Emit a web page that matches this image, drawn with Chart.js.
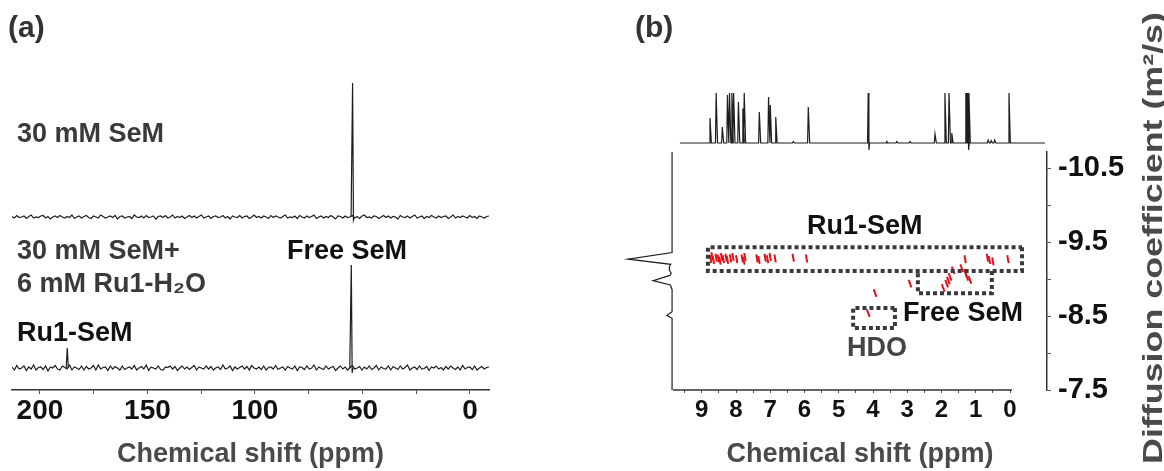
<!DOCTYPE html>
<html>
<head>
<meta charset="utf-8">
<script src="https://cdn.jsdelivr.net/npm/chart.js@4.4.1/dist/chart.umd.min.js"></script>
<style>
  html, body { margin: 0; padding: 0; background: #fff; }
  #stage { position: relative; width: 1164px; height: 471px; overflow: hidden;
           font-family: "Liberation Sans", Arial, sans-serif; font-weight: bold; }
  canvas { position: absolute; }
  .lbl { position: absolute; white-space: nowrap; line-height: 1; font-size: 27px; color: #111; }
</style>
</head>
<body>
<div id="stage">
  <canvas id="chartA" width="560" height="471" style="left:0;top:0"></canvas>
  <canvas id="chartTop" width="564" height="160" style="left:600px;top:0"></canvas>
  <canvas id="chartSide" width="100" height="471" style="left:600px;top:0"></canvas>
  <canvas id="chartB" width="564" height="471" style="left:600px;top:0"></canvas>

  <div class="lbl" style="left:8px;top:12px;font-size:30px;color:#333">(a)</div>
  <div class="lbl" style="left:17px;top:120px;color:#3a3a3a">30 mM SeM</div>
  <div class="lbl" style="left:17px;top:237px;color:#3a3a3a">30 mM SeM+</div>
  <div class="lbl" style="left:17px;top:270px;color:#3a3a3a">6 mM Ru1-H₂O</div>
  <div class="lbl" style="left:287px;top:237px">Free SeM</div>
  <div class="lbl" style="left:17px;top:319px">Ru1-SeM</div>

  <div class="lbl" style="left:635px;top:12px;font-size:30px;color:#333">(b)</div>
  <div class="lbl" style="left:807px;top:212px">Ru1-SeM</div>
  <div class="lbl" style="left:903px;top:299px">Free SeM</div>
  <div class="lbl" style="left:847px;top:334px;color:#444">HDO</div>
  <div class="lbl" style="left:1153px;top:238px;font-size:28px;color:#4a4a4a;transform:translate(-50%,-50%) rotate(-90deg) scaleX(1.28)">Diffusion coefficient (m²/s)</div>
</div>

<script>
// ---- panel (a): 77Se 1D spectra ----
const rangeA = [-8.84, 213];               // ppm, right to left
const ticksA = [0, 25, 50, 75, 100, 125, 150, 175, 200];

// baseline noise (a.u., ~1 px)
const noiseTop = [0.5,-1,1.5,-0.5,0,1,-1.5,0.5,2,-1,0,-0.5,1,1.5,-1,0.5,-2,0,1,-0.5,
  1.5,0,-1,0.5,-0.5,2,-1.5,0,1,-1,0.5,1.5,-0.5,-1.5,1,0,-1,2,0.5,-1,
  0,1,-0.5,1.5,-2,0.5,1,-1,0,0.5,-1.5,2,0,-0.5,1,-1,1.5,-0.5,0,1,
  -2,0.5,1,-0.5,1.5,-1,0,2,-1,0.5,-0.5,1,-1.5,0,1.5,-0.5,1,-1,0.5,2,
  -1,0,1,-1.5,0.5,1,-0.5,0,1.5,-1,0.5,-2,1,0,-0.5,1.5,-1,0.5,1,-1.5,
  0,2,-0.5,0.5,-1,1,0,-1.5,1.5,-0.5,1,0,-1,0.5,2,-1,0,-0.5,1,-1.5,
  1.5,0,-1,1,-0.5,0.5,2,-1.5,0,1,-1,0.5,-0.5,1.5,0,-2,1,0.5,-1,1,
  -0.5,0,1.5,-1,0.5,-1.5,1,2,-0.5,0,-1,1,0.5,-1.5,0,1.5,-0.5,1,-1,0.5,
  0,-2,1.5,0,-0.5,1,-1,0.5,2,-1,0,1,-1.5,0.5,-0.5,1.5,0,-1,1,-0.5,
  0.5,1,-1.5,0,2,-1,0.5,-0.5,1,0,-1,1.5,-0.5,0.5,-1.5,1,0,-1,0.5,1];
const noiseBottom = [1,-2,2.5,-1,0,2,-2.5,1,-1,3,-2,0.5,1,-1.5,2,-3,1,0,2.5,-1,
  -2,2,0.5,-1,3,-2,1,0,-1.5,2,-2,1.5,-1,0,2.5,-2,3,-1,0.5,1,
  -2.5,2,-1,1.5,0,-2,2,-1.5,0,1,-1,2.5,-2,0,1.5,-1,3,-2.5,1,0,
  -1,2,-1.5,-2,1,0.5,2,-1,1.5,-2.5,0,2,-1,1,-1.5,0.5,2.5,-2,1,0,
  -1,2,-1,1.5,-2,0,1,-1.5,3,-1,0,2,-2.5,1,-1,0.5,2,-1,1.5,-2,
  2.5,0,-1,1,-1.5,2,-2,0.5,1,-1,2.5,-1.5,0,1,-2,1.5,0,-1,2,-2.5,
  1,0.5,-1.5,2,-1,0,3,-2,1,-0.5,-1.5,2,-1,0.5,1.5,-2.5,0,2,-1,1,
  -2,0.5,2.5,-1,0,1.5,-2,1,-1,2,-1.5,0,2.5,-2,1,-0.5,-1,2,-2,1.5,
  0,-1.5,2,-1,0.5,3,-2,0,1,-1.5,2,-1,-0.5,1.5,-2.5,1,0,2,-1,0.5,
  -2,1.5,-1,2,0,-1.5,1,-2,2.5,-1,0.5,1,-1.5,2,-2,0,1.5,-1,0.5,1];

// peaks: [ppm, intensity]
const peakTop = [[55.3, 0], [54.6, 134], [54.2, -3], [53.8, 0]];
const peakBottom = [[55.9, 0], [55.2, 103], [54.8, -5], [54.4, 0]];
const peakRu1 = [[187.8, 0], [187.3, 20], [186.8, 0]];
const offsetTop = 173, offsetBottom = 22;

// ---- panel (b): 1H DOSY ----
const rangeB = [-1.08, 9.84];              // ppm
const axisSpanB = [9.84, -0.06];
const ticksB = [0, 0.5, 1, 1.5, 2, 2.5, 3, 3.5, 4, 4.5, 5, 5.5, 6, 6.5, 7, 7.5, 8, 8.5, 9, 9.5];
const rangeD = [-10.72, -7.5];             // log D
const ticksD = [-10.5, -10, -9.5, -9, -8.5, -8, -7.5];

// top 1H projection: [ppm, height, dip]
const projTopSpan = [9.64, -1.02];
const projTopPeaks = [
  [8.76, 0.5], [8.58, 1.0], [8.40, 0.32], [8.25, 0.96], [8.19, 1.0], [8.12, 1.0], [8.07, 1.0],
  [7.93, 0.82], [7.80, 0.69], [7.76, 1.0], [7.32, 0.62], [7.05, 0.92], [7.00, 0.76], [6.84, 0.52],
  [6.33, 0.03], [5.89, 0.72], [4.14, 1.0, -0.14], [3.60, 0.03], [3.31, 0.03], [2.92, 0.03],
  [2.19, 0.18], [1.90, 1.0], [1.78, 1.0], [1.70, 0.2], [1.29, 1.0], [1.26, 1.0], [1.23, 1.0, -0.14],
  [1.20, 1.0], [0.64, 0.06], [0.55, 0.05], [0.45, 0.06], [0.03, 1.0]
];

// left diffusion projection: log D and intensity
const projSideD = [-10.72, -9.36, -9.27, -9.20, -9.17, -9.12, -9.08, -9.05, -8.98, -8.92, -8.86, -8.56, -8.51, -8.47, -7.5];
const projSideI = [0, 0, 1.0, 0.03, 0.06, 0.06, 0.02, 0.05, 0.43, 0.04, 0, 0, 0.12, 0, 0];

// cross peaks
const crossRowPpm = [8.74, 8.70, 8.66, 8.58, 8.52, 8.47, 8.42, 8.37, 8.29, 8.25, 8.16, 8.09, 7.98,
  7.82, 7.77, 7.74, 7.39, 7.33, 7.15, 7.08, 7.00, 6.86, 6.33, 5.94, 1.31, 0.66, 0.60, 0.50, 0.06];
const crossRowD = [-9.27, -9.31, -9.26, -9.29, -9.28, -9.25, -9.30, -9.27, -9.29, -9.26, -9.28, -9.30, -9.27,
  -9.28, -9.25, -9.30, -9.28, -9.26, -9.29, -9.27, -9.30, -9.28, -9.29, -9.28, -9.27, -9.29, -9.26, -9.24, -9.27];
const crossFreePpm = [2.92, 1.95, 1.85, 1.80, 1.75, 1.66, 1.41, 1.30, 1.26, 1.17, 3.94, 4.14];
const crossFreeD = [-8.94, -8.88, -8.94, -8.98, -9.03, -9.12, -9.15, -9.08, -9.03, -8.99, -8.81, -8.54];

// dotted boxes: [ppmLeft, ppmRight, Dtop, Dbottom]
const boxRu1 = [8.82, -0.35, -9.43, -9.11];
const boxFree = [2.69, 0.53, -9.11, -8.81];
const boxHdo = [4.58, 3.36, -8.61, -8.34];

// ---------- build ----------
function noiseLine(noise, offset) {
  const step = (rangeA[1] - rangeA[0]) / (noise.length - 1);
  return noise.map((v, i) => ({ x: rangeA[1] - i * step, y: v + offset }));
}
function shift(peak, offset) {
  return peak.map(p => ({ x: p[0], y: p[1] + offset }));
}
function stickSpectrum(span, peaks, w) {
  const pts = [{ x: span[0], y: 0 }];
  peaks.forEach(p => {
    pts.push({ x: p[0] + w, y: 0 }, { x: p[0], y: p[1] });
    if (p[2] !== undefined) pts.push({ x: p[0] - w, y: p[2] });
    pts.push({ x: p[0] - 2 * w, y: 0 });
  });
  pts.push({ x: span[1], y: 0 });
  return pts;
}
function boxPath(b, openTop) {
  const pts = [
    { x: b[1], y: b[2] }, { x: b[1], y: b[3] },
    { x: b[0], y: b[3] }, { x: b[0], y: b[2] }
  ];
  if (!openTop) pts.push({ x: b[1], y: b[2] });
  return pts;
}

const lineStyle = { borderColor: '#1e1e1e', borderWidth: 1.2, pointRadius: 0, fill: false, tension: 0 };
const tickFontA = { family: '"Liberation Sans", Arial, sans-serif', weight: 'bold', size: 28 };
const tickFontB = { family: '"Liberation Sans", Arial, sans-serif', weight: 'bold', size: 24 };
const titleFont = { family: '"Liberation Sans", Arial, sans-serif', weight: 'bold', size: 27 };

Chart.defaults.animation = false;
Chart.defaults.plugins.legend.display = false;
Chart.defaults.plugins.tooltip.enabled = false;

new Chart(document.getElementById('chartA'), {
  type: 'scatter',
  data: {
    datasets: [
      { data: noiseLine(noiseTop, offsetTop), showLine: true, ...lineStyle },
      { data: noiseLine(noiseBottom, offsetBottom), showLine: true, ...lineStyle },
      { data: shift(peakTop, offsetTop), showLine: true, ...lineStyle },
      { data: shift(peakBottom, offsetBottom), showLine: true, ...lineStyle },
      { data: shift(peakRu1, offsetBottom), showLine: true, ...lineStyle }
    ]
  },
  options: {
    responsive: false,
    layout: { padding: { left: 12, right: 71, top: 60, bottom: 0 } },
    scales: {
      x: {
        type: 'linear', reverse: true, min: rangeA[0], max: rangeA[1],
        afterBuildTicks: s => { s.ticks = ticksA.map(v => ({ value: v })); },
        afterFit: s => { s.height = 81; },
        border: { display: true, color: '#333', width: 1.5 },
        grid: { drawOnChartArea: false, drawTicks: true, tickLength: 4, tickColor: '#555', tickWidth: 1 },
        ticks: { autoSkip: false, maxRotation: 0, padding: 0, color: '#111', font: tickFontA,
                 callback: v => (v % 50 === 0 ? String(v) : '') },
        title: { display: true, text: 'Chemical shift (ppm)', color: '#4a4a4a', font: titleFont,
                 padding: { top: 0, bottom: 0 } }
      },
      y: { display: false, min: 0, max: 330 }
    }
  }
});

new Chart(document.getElementById('chartTop'), {
  type: 'scatter',
  data: { datasets: [{ data: stickSpectrum(projTopSpan, projTopPeaks, 0.02), showLine: true, ...lineStyle }] },
  options: {
    responsive: false,
    layout: { padding: { left: 73, right: 117, top: 88, bottom: 7 } },
    scales: {
      x: { display: false, type: 'linear', reverse: true, min: rangeB[0], max: rangeB[1] },
      y: { display: false, min: -0.2, max: 1.1 }
    }
  }
});

new Chart(document.getElementById('chartSide'), {
  type: 'scatter',
  data: { datasets: [{ data: projSideD.map((d, i) => ({ x: projSideI[i], y: d })), showLine: true, ...lineStyle }] },
  options: {
    responsive: false,
    layout: { padding: { left: 10, right: 20, top: 152, bottom: 81 } },
    scales: {
      x: { display: false, type: 'linear', reverse: true, min: -0.18, max: 1.41 },
      y: { display: false, reverse: true, min: rangeD[0], max: rangeD[1] }
    }
  }
});

// x axis line of the DOSY plot stops at 0 ppm while the plot area runs on to the D axis
const axisLine = {
  id: 'axisLine',
  afterDraw(chart) {
    const sx = chart.scales.x, ctx = chart.ctx, y = chart.chartArea.bottom;
    ctx.save();
    ctx.strokeStyle = '#333';
    ctx.lineWidth = 1.5;
    ctx.beginPath();
    ctx.moveTo(sx.getPixelForValue(axisSpanB[0]), y);
    ctx.lineTo(sx.getPixelForValue(axisSpanB[1]), y);
    ctx.stroke();
    ctx.restore();
  }
};

const boxStyle = { showLine: true, borderColor: '#3a3a3a', borderWidth: 4, borderDash: [4, 3],
                   borderCapStyle: 'butt', pointRadius: 0, fill: false };
const red = '#e3121b';

new Chart(document.getElementById('chartB'), {
  type: 'scatter',
  data: {
    datasets: [
      { data: boxPath(boxRu1), ...boxStyle },
      { data: boxPath(boxFree, true), ...boxStyle },
      { data: boxPath(boxHdo), ...boxStyle },
      { data: crossRowPpm.map((p, i) => ({ x: p, y: crossRowD[i] })),
        pointStyle: 'line', rotation: 80, pointRadius: 4, borderColor: red, borderWidth: 2 },
      { data: crossFreePpm.map((p, i) => ({ x: p, y: crossFreeD[i] })),
        pointStyle: 'line', rotation: 70, pointRadius: 4, borderColor: red, borderWidth: 2 }
    ]
  },
  options: {
    responsive: false,
    layout: { padding: { left: 73, right: 0, top: 152, bottom: 0 } },
    scales: {
      x: {
        type: 'linear', reverse: true, min: rangeB[0], max: rangeB[1],
        afterBuildTicks: s => { s.ticks = ticksB.map(v => ({ value: v })); },
        afterFit: s => { s.height = 81; },
        border: { display: false },
        grid: { drawOnChartArea: false, drawTicks: true, tickLength: 3, tickColor: '#555', tickWidth: 1 },
        ticks: { autoSkip: false, maxRotation: 0, padding: 3, color: '#111', font: tickFontB,
                 callback: v => (Number.isInteger(v) ? String(v) : '') },
        title: { display: true, text: 'Chemical shift (ppm)', color: '#4a4a4a', font: titleFont,
                 padding: { top: 0, bottom: 0 } }
      },
      y: {
        position: 'right', type: 'linear', reverse: true, min: rangeD[0], max: rangeD[1],
        afterBuildTicks: s => { s.ticks = ticksD.map(v => ({ value: v })); },
        afterFit: s => { s.width = 117; },
        border: { display: true, color: '#333', width: 1.5 },
        grid: { drawOnChartArea: false, drawTicks: true, tickLength: 4, tickColor: '#555', tickWidth: 1 },
        ticks: { autoSkip: false, padding: 7, color: '#111', font: { ...tickFontB, size: 29 },
                 callback: v => (Math.round(v * 2) % 2 !== 0 ? v.toFixed(1) : '') }
      }
    }
  },
  plugins: [axisLine]
});
</script>
</body>
</html>
